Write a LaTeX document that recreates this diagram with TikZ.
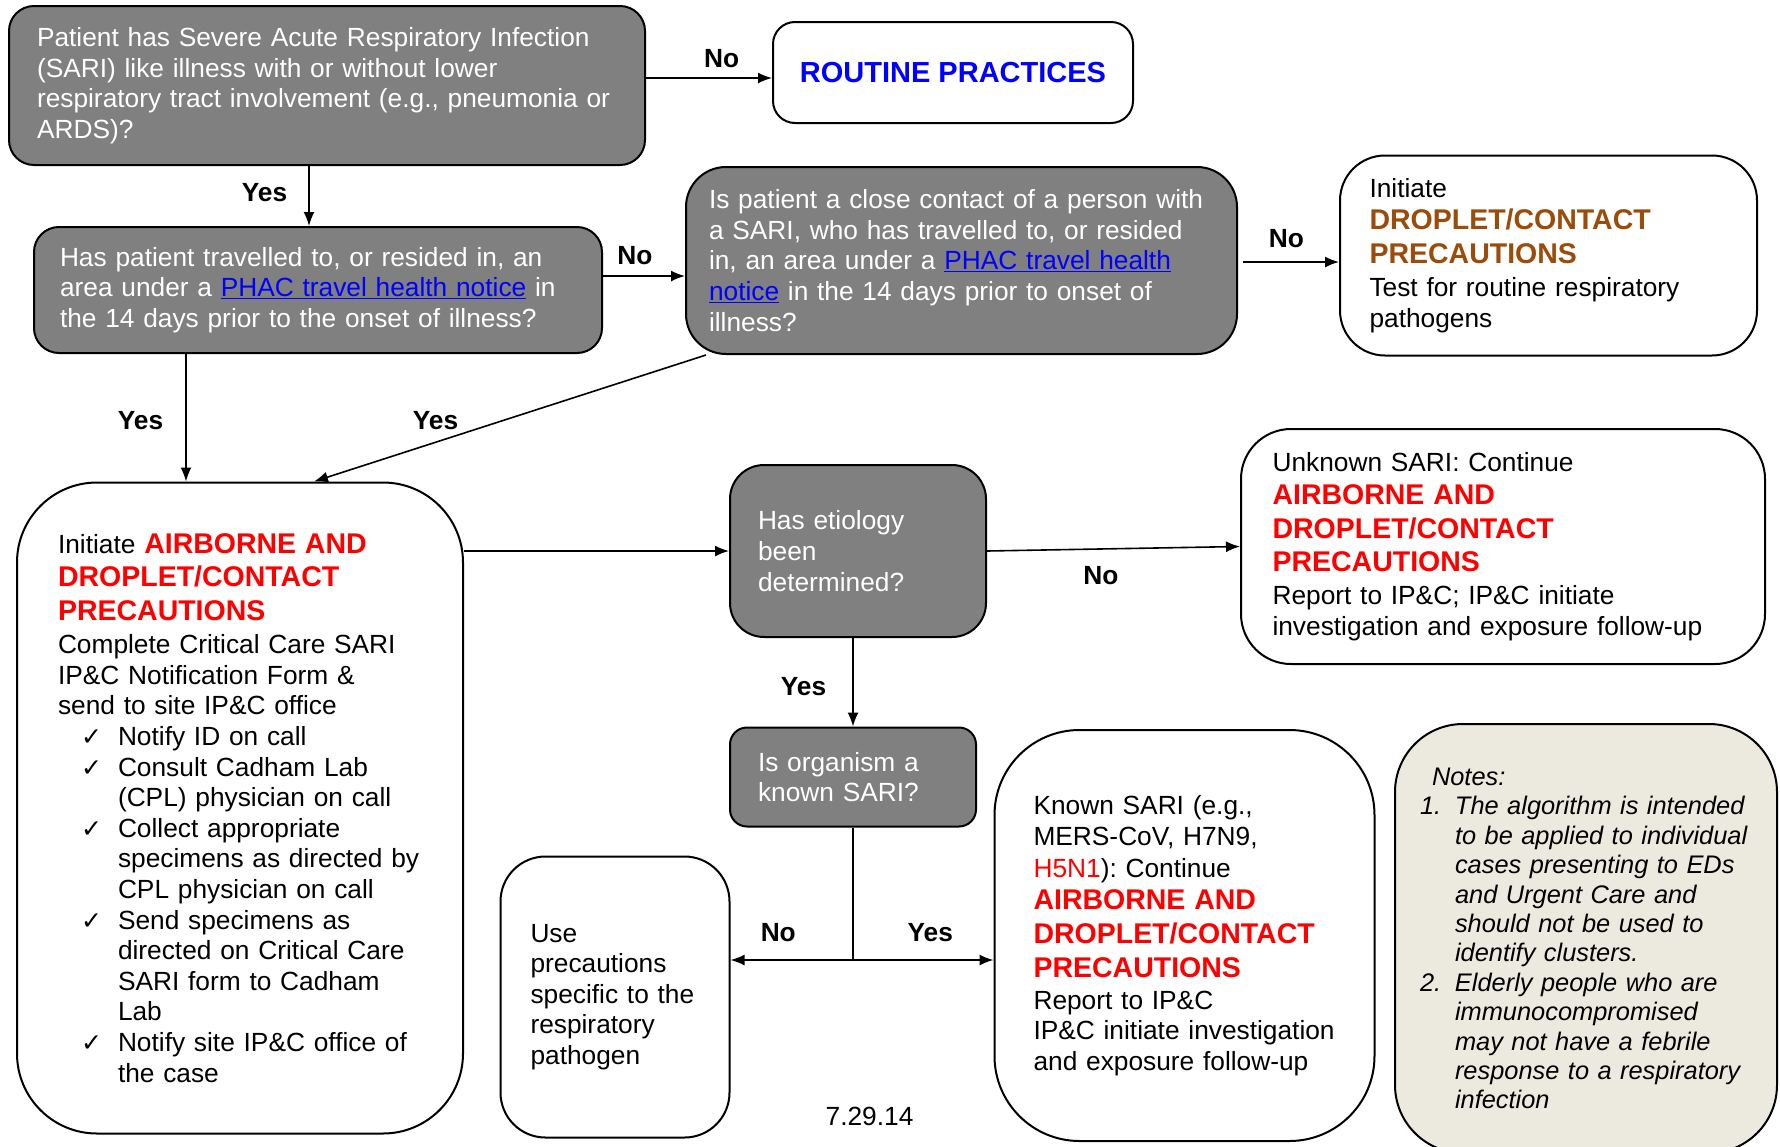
\documentclass[tikz,border=0pt]{standalone}
\usepackage{fontspec}
\setmainfont{Liberation Sans}
\newfontfamily\symfont{DejaVu Sans}
\usetikzlibrary{positioning, arrows.meta}

\definecolor{qgray}{RGB}{128,128,128}
\definecolor{notebg}{RGB}{236,233,222}
\definecolor{precred}{RGB}{255,0,0}
\definecolor{precbrown}{RGB}{155,75,10}
\definecolor{linkblue}{RGB}{0,0,255}

\frenchspacing
\newcommand{\boxfont}{\fontsize{26.3}{30.6}\selectfont}
\newcommand{\redprec}[1]{{\fontsize{28.5}{33}\selectfont\bfseries\color{precred}#1}}
\newcommand{\brownprec}[1]{{\fontsize{28.5}{33}\selectfont\bfseries\color{precbrown}#1}}
\newcommand{\phaclink}[1]{{\color{linkblue}\underline{#1}}}
\newcommand{\chk}{\makebox[60pt][l]{\hspace*{23pt}{\symfont\fontsize{25}{25}\selectfont ✓}}}
\newcommand{\cont}{\hspace*{60pt}}
\newcommand{\noteno}[1]{\makebox[35pt][l]{#1}}
\newcommand{\noteind}{\hspace*{35pt}}

\begin{document}
\begin{tikzpicture}[x=1pt, y=-1pt, >={Latex[length=14pt,width=11pt]},
    every edge/.style={draw, line width=1.6pt},
    question/.style={draw, line width=2pt, fill=qgray, text=white, rounded corners=#1,
        align=left, inner sep=0pt, font=\boxfont},
    question/.default=25pt,
    action/.style={draw, line width=2pt, fill=white, text=black, rounded corners=#1,
        align=left, inner sep=0pt, font=\boxfont},
    action/.default=40pt,
    answer/.style={font=\fontsize{26.3}{30}\selectfont\bfseries, inner sep=0pt}]
    \useasboundingbox (0,0) rectangle (1780,1146);

    \node[question, minimum width=636pt, minimum height=159pt, text width=580pt] (sari) at (327,85.5)
        {Patient has Severe Acute Respiratory Infection\\
        (SARI) like illness with or without lower\\
        respiratory tract involvement (e.g., pneumonia or\\
        ARDS)?};
    \node[action=22pt, minimum width=360pt, minimum height=101pt, align=center,
        font=\fontsize{29}{34}\selectfont\bfseries, text=linkblue] (routine) at (953,72.5)
        {ROUTINE PRACTICES};
    \node[question, minimum width=568pt, minimum height=126pt, text width=516pt] (travel) at (318,290)
        {Has patient travelled to, or resided in, an\\
        area under a \phaclink{PHAC travel health notice} in\\
        the 14 days prior to the onset of illness?};
    \node[question=40pt, minimum width=551pt, minimum height=187pt, text width=505pt] (contact) at (961.5,260.5)
        {Is patient a close contact of a person with\\
        a SARI, who has travelled to, or resided\\
        in, an area under a \phaclink{PHAC travel health}\\
        \phaclink{notice} in the 14 days prior to onset of\\
        illness?};
    \node[action=45pt, minimum width=417pt, minimum height=200pt, text width=358pt] (droplet) at (1548.5,255.5)
        {Initiate\\[2pt]
        \brownprec{DROPLET/CONTACT}\\[3pt]
        \brownprec{PRECAUTIONS}\\[2.5pt]
        Test for routine respiratory\\
        pathogens};
    \node[action=80pt, minimum width=446pt, minimum height=651pt, text width=364pt] (airborne) at (240,808)
        {Initiate \redprec{AIRBORNE AND}\\[2.5pt]
        \redprec{DROPLET/CONTACT}\\[3.5pt]
        \redprec{PRECAUTIONS}\\[2.5pt]
        Complete Critical Care SARI\\
        IP\&C Notification Form \&\\
        send to site IP\&C office\\
        \chk Notify ID on call\\
        \chk Consult Cadham Lab\\
        \cont (CPL) physician on call\\
        \chk Collect appropriate\\
        \cont specimens as directed by\\
        \cont CPL physician on call\\
        \chk Send specimens as\\
        \cont directed on Critical Care\\
        \cont SARI form to Cadham\\
        \cont Lab\\
        \chk Notify site IP\&C office of\\
        \cont the case};
    \node[question=34pt, minimum width=256pt, minimum height=172pt, text width=200pt] (etiology) at (858,551)
        {Has etiology\\ been\\ determined?};
    \node[action=50pt, minimum width=524pt, minimum height=235pt, text width=461pt] (unknown) at (1503,546.5)
        {Unknown SARI: Continue\\[2.5pt]
        \redprec{AIRBORNE AND}\\[3.5pt]
        \redprec{DROPLET/CONTACT}\\[2.5pt]
        \redprec{PRECAUTIONS}\\[2pt]
        Report to IP\&C; IP\&C initiate\\
        investigation and exposure follow-up};
    \node[question=17pt, minimum width=246pt, minimum height=99pt, text width=190pt] (organism) at (853,777)
        {Is organism a\\ known SARI?};
    \node[action=45pt, minimum width=229pt, minimum height=281pt, text width=169pt] (specific) at (615,997)
        {Use\\ precautions\\ specific to the\\ respiratory\\ pathogen};
    \node[action=85pt, minimum width=380pt, minimum height=411pt, text width=302pt] (known) at (1184.5,935.5)
        {Known SARI (e.g.,\\
        MERS-CoV, H7N9,\\[1.5pt]
        {\color{precred}H5N1}): Continue\\[1.5pt]
        \redprec{AIRBORNE AND}\\[3.5pt]
        \redprec{DROPLET/CONTACT}\\[3.5pt]
        \redprec{PRECAUTIONS}\\[1pt]
        Report to IP\&C\\
        IP\&C initiate investigation\\
        and exposure follow-up};
    \node[action=68pt, fill=notebg, minimum width=382pt, minimum height=429pt, text width=332pt,
        font=\fontsize{25.4}{29.4}\selectfont\itshape] (notes) at (1586,938.5)
        {\hspace*{12pt}Notes:\\
        \noteno{1.}The algorithm is intended\\
        \noteind to be applied to individual\\
        \noteind cases presenting to EDs\\
        \noteind and Urgent Care and\\
        \noteind should not be used to\\
        \noteind identify clusters.\\
        \noteno{2.}Elderly people who are\\
        \noteind immunocompromised\\
        \noteind may not have a febrile\\
        \noteind response to a respiratory\\
        \noteind infection};
    \node[font=\boxfont, inner sep=0pt] (date) at (869.5,1116) {7.29.14};
    \coordinate (fork) at (853,960);

    \path[->]
    ([yshift=7.5pt]sari.east) edge node[answer, above=9pt, pos=0.6] {No} ([yshift=-5.5pt]routine.west)
    ([xshift=-18pt]sari.south) edge node[answer, left=21pt, pos=0.45] {Yes} ([xshift=-9pt]travel.north)
    ([yshift=14pt]travel.east) edge node[answer, above=10pt, pos=0.39] {No} ([yshift=-15.5pt]contact.west)
    ([yshift=-1.5pt]contact.east) edge[shorten <=5pt] node[answer, above=13pt, pos=0.48] {No} ([yshift=-6.5pt]droplet.west)
    ([xshift=-132pt]travel.south) edge node[answer, left=22pt, pos=0.52] {Yes} ([xshift=-54pt]airborne.north)
    ([xshift=-255.5pt]contact.south) edge node[answer, above=12pt, pos=0.69] {Yes} ([xshift=74pt]airborne.north)
    (airborne.east |- etiology.west) edge (etiology.west)
    (etiology.east) edge node[answer, below=17pt, pos=0.45] {No} (unknown.west)
    (organism.north |- etiology.south) edge node[answer, left=26pt, pos=0.55] {Yes} (organism.north);

    \draw[line width=1.6pt] (organism.south) -- (fork);
    \path[->]
    (fork) edge node[answer, above=17.7pt, pos=0.61] {No} (fork -| specific.east)
    (fork) edge node[answer, above=17pt, pos=0.55] {Yes} (fork -| known.west);
\end{tikzpicture}
\end{document}
